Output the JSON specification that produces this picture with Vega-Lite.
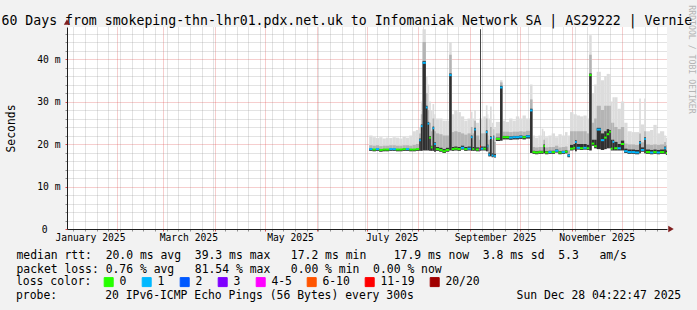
{
"$schema": "https://vega.github.io/schema/vega-lite/v6.json",
"width": 600, "height": 202,
"autosize": {"type": "none"},
"padding": {"left": 67, "top": 27, "right": 30, "bottom": 81},
"background": "#f2f2f2",
"title": {"text": "probe:\u00a0\u00a0\u00a0\u00a0\u00a0\u00a0\u00a020 IPv6-ICMP Echo Pings (56 Bytes) every 300s\u00a0\u00a0\u00a0\u00a0\u00a0\u00a0\u00a0\u00a0\u00a0\u00a0\u00a0\u00a0\u00a0\u00a0\u00a0Sun Dec 28 04:22:47 2025",
"orient": "bottom", "anchor": "start", "frame": "group", "align": "left", "dx": -51, "offset": 10, "baseline": "alphabetic",
"font": "DejaVu Sans Mono", "fontSize": 11.4, "fontWeight": "normal", "color": "black"},
"datasets": {
"smoke": [
{"t":"2025-07-02T12:00Z","t2":"2025-07-04T12:00Z","lo":18.4,"dk":18.9,"mh":19.7,"hi":22.0,"med":18.8,"loss":"1"},
{"t":"2025-07-04T12:00Z","t2":"2025-07-06T12:00Z","lo":18.3,"dk":18.8,"mh":19.6,"hi":21.6,"med":18.7,"loss":"0"},
{"t":"2025-07-06T12:00Z","t2":"2025-07-08T12:00Z","lo":18.4,"dk":18.9,"mh":19.7,"hi":21.4,"med":18.8,"loss":"1"},
{"t":"2025-07-08T12:00Z","t2":"2025-07-10T12:00Z","lo":18.2,"dk":18.7,"mh":19.5,"hi":21.6,"med":18.6,"loss":"0"},
{"t":"2025-07-10T12:00Z","t2":"2025-07-12T12:00Z","lo":18.3,"dk":18.8,"mh":19.6,"hi":21.3,"med":18.7,"loss":"0"},
{"t":"2025-07-12T12:00Z","t2":"2025-07-14T12:00Z","lo":18.3,"dk":18.8,"mh":19.6,"hi":21.5,"med":18.7,"loss":"0"},
{"t":"2025-07-14T12:00Z","t2":"2025-07-16T12:00Z","lo":18.4,"dk":18.9,"mh":19.7,"hi":21.4,"med":18.8,"loss":"1"},
{"t":"2025-07-16T12:00Z","t2":"2025-07-18T12:00Z","lo":18.4,"dk":18.9,"mh":19.7,"hi":21.6,"med":18.8,"loss":"1"},
{"t":"2025-07-18T12:00Z","t2":"2025-07-20T12:00Z","lo":18.3,"dk":18.8,"mh":19.6,"hi":21.5,"med":18.7,"loss":"0"},
{"t":"2025-07-20T12:00Z","t2":"2025-07-22T12:00Z","lo":18.3,"dk":18.8,"mh":19.6,"hi":21.3,"med":18.7,"loss":"0"},
{"t":"2025-07-22T12:00Z","t2":"2025-07-24T12:00Z","lo":18.4,"dk":18.9,"mh":19.7,"hi":21.7,"med":18.8,"loss":"0"},
{"t":"2025-07-24T12:00Z","t2":"2025-07-26T12:00Z","lo":18.4,"dk":18.9,"mh":19.7,"hi":21.5,"med":18.8,"loss":"1"},
{"t":"2025-07-26T12:00Z","t2":"2025-07-28T12:00Z","lo":18.3,"dk":18.8,"mh":19.6,"hi":22.0,"med":18.7,"loss":"0"},
{"t":"2025-07-28T12:00Z","t2":"2025-07-30T12:00Z","lo":18.3,"dk":18.8,"mh":19.8,"hi":23.0,"med":18.7,"loss":"0"},
{"t":"2025-07-30T12:00Z","t2":"2025-08-01T12:00Z","lo":18.4,"dk":18.9,"mh":20.0,"hi":23.3,"med":18.8,"loss":"0"},
{"t":"2025-08-01T12:00Z","t2":"2025-08-02T12:00Z","lo":18.4,"dk":21.3,"mh":22.5,"hi":24.0,"med":20.9,"loss":"1"},
{"t":"2025-08-02T12:00Z","t2":"2025-08-03T12:00Z","lo":18.4,"dk":24.6,"mh":27.0,"hi":30.0,"med":24.2,"loss":"1"},
{"t":"2025-08-03T12:00Z","t2":"2025-08-05T12:00Z","lo":18.5,"dk":39.5,"mh":44.0,"hi":47.0,"med":39.1,"loss":"1"},
{"t":"2025-08-05T12:00Z","t2":"2025-08-06T12:00Z","lo":18.5,"dk":29.0,"mh":32.0,"hi":36.0,"med":28.6,"loss":"1"},
{"t":"2025-08-06T12:00Z","t2":"2025-08-07T12:00Z","lo":18.5,"dk":25.2,"mh":28.0,"hi":34.0,"med":24.8,"loss":"1"},
{"t":"2025-08-07T12:00Z","t2":"2025-08-08T12:00Z","lo":18.4,"dk":21.9,"mh":25.0,"hi":30.0,"med":21.5,"loss":"0"},
{"t":"2025-08-08T12:00Z","t2":"2025-08-09T12:00Z","lo":18.4,"dk":19.6,"mh":23.0,"hi":28.0,"med":19.2,"loss":"0"},
{"t":"2025-08-09T12:00Z","t2":"2025-08-10T12:00Z","lo":18.4,"dk":24.1,"mh":26.0,"hi":29.4,"med":23.7,"loss":"1"},
{"t":"2025-08-10T12:00Z","t2":"2025-08-11T12:00Z","lo":18.2,"dk":20.4,"mh":23.0,"hi":27.0,"med":20.0,"loss":"1"},
{"t":"2025-08-11T12:00Z","t2":"2025-08-13T12:00Z","lo":18.4,"dk":19.3,"mh":22.5,"hi":26.0,"med":18.8,"loss":"0"},
{"t":"2025-08-13T12:00Z","t2":"2025-08-15T12:00Z","lo":18.2,"dk":19.1,"mh":22.3,"hi":26.0,"med":18.6,"loss":"0"},
{"t":"2025-08-15T12:00Z","t2":"2025-08-17T12:00Z","lo":17.9,"dk":18.8,"mh":22.0,"hi":25.5,"med":18.3,"loss":"0"},
{"t":"2025-08-17T12:00Z","t2":"2025-08-19T12:00Z","lo":18.2,"dk":19.1,"mh":22.0,"hi":25.5,"med":18.6,"loss":"0"},
{"t":"2025-08-19T12:00Z","t2":"2025-08-21T00:00Z","lo":18.5,"dk":36.6,"mh":41.0,"hi":44.0,"med":36.2,"loss":"1"},
{"t":"2025-08-21T00:00Z","t2":"2025-08-22T12:00Z","lo":18.4,"dk":19.3,"mh":22.8,"hi":27.0,"med":18.8,"loss":"0"},
{"t":"2025-08-22T12:00Z","t2":"2025-08-24T12:00Z","lo":18.5,"dk":19.4,"mh":23.0,"hi":28.0,"med":18.9,"loss":"0"},
{"t":"2025-08-24T12:00Z","t2":"2025-08-26T12:00Z","lo":18.4,"dk":19.3,"mh":22.8,"hi":27.5,"med":18.8,"loss":"0"},
{"t":"2025-08-26T12:00Z","t2":"2025-08-28T12:00Z","lo":18.7,"dk":19.6,"mh":22.5,"hi":26.5,"med":19.1,"loss":"1"},
{"t":"2025-08-28T12:00Z","t2":"2025-08-30T12:00Z","lo":18.4,"dk":19.3,"mh":22.2,"hi":25.5,"med":18.8,"loss":"0"},
{"t":"2025-08-30T12:00Z","t2":"2025-09-01T12:00Z","lo":18.5,"dk":19.4,"mh":22.5,"hi":26.0,"med":18.9,"loss":"1"},
{"t":"2025-09-01T12:00Z","t2":"2025-09-02T12:00Z","lo":18.4,"dk":22.0,"mh":24.0,"hi":27.6,"med":21.6,"loss":"1"},
{"t":"2025-09-02T12:00Z","t2":"2025-09-03T12:00Z","lo":18.4,"dk":19.3,"mh":22.5,"hi":26.0,"med":18.8,"loss":"0"},
{"t":"2025-09-03T12:00Z","t2":"2025-09-04T12:00Z","lo":18.4,"dk":23.8,"mh":25.5,"hi":28.0,"med":23.4,"loss":"1"},
{"t":"2025-09-04T12:00Z","t2":"2025-09-06T12:00Z","lo":18.3,"dk":19.2,"mh":22.0,"hi":25.0,"med":18.7,"loss":"0"},
{"t":"2025-09-06T12:00Z","t2":"2025-09-07T00:00Z","lo":18.3,"dk":19.1,"mh":21.0,"hi":26.0,"med":18.7,"loss":"4-5"},
{"t":"2025-09-07T00:00Z","t2":"2025-09-07T12:00Z","lo":18.4,"dk":47.0,"mh":47.0,"hi":47.0,"med":19.4,"loss":"11-19"},
{"t":"2025-09-07T12:00Z","t2":"2025-09-09T00:00Z","lo":18.5,"dk":19.4,"mh":22.5,"hi":26.0,"med":18.9,"loss":"1"},
{"t":"2025-09-09T00:00Z","t2":"2025-09-10T12:00Z","lo":18.5,"dk":19.4,"mh":22.5,"hi":26.5,"med":18.9,"loss":"0"},
{"t":"2025-09-10T12:00Z","t2":"2025-09-11T12:00Z","lo":18.3,"dk":23.2,"mh":26.0,"hi":29.1,"med":22.8,"loss":"1"},
{"t":"2025-09-11T12:00Z","t2":"2025-09-12T00:00Z","lo":18.3,"dk":19.9,"mh":22.0,"hi":27.0,"med":19.5,"loss":"1"},
{"t":"2025-09-12T00:00Z","t2":"2025-09-13T00:00Z","lo":17.1,"dk":18.0,"mh":21.0,"hi":26.0,"med":17.5,"loss":"1"},
{"t":"2025-09-13T00:00Z","t2":"2025-09-14T00:00Z","lo":17.1,"dk":21.8,"mh":24.0,"hi":28.8,"med":21.4,"loss":"1"},
{"t":"2025-09-14T00:00Z","t2":"2025-09-15T00:00Z","lo":16.9,"dk":17.8,"mh":21.0,"hi":25.0,"med":17.3,"loss":"1"},
{"t":"2025-09-15T00:00Z","t2":"2025-09-15T12:00Z","lo":17.0,"dk":22.0,"mh":23.5,"hi":27.0,"med":21.6,"loss":"1"},
{"t":"2025-09-15T12:00Z","t2":"2025-09-16T12:00Z","lo":16.8,"dk":17.7,"mh":20.5,"hi":24.0,"med":17.2,"loss":"1"},
{"t":"2025-09-16T12:00Z","t2":"2025-09-19T00:00Z","lo":20.7,"dk":21.5,"mh":22.5,"hi":25.2,"med":21.2,"loss":"0"},
{"t":"2025-09-19T00:00Z","t2":"2025-09-20T12:00Z","lo":20.8,"dk":33.7,"mh":34.5,"hi":35.0,"med":33.3,"loss":"1"},
{"t":"2025-09-20T12:00Z","t2":"2025-09-22T12:00Z","lo":21.1,"dk":21.9,"mh":22.9,"hi":25.5,"med":21.6,"loss":"0"},
{"t":"2025-09-22T12:00Z","t2":"2025-09-24T12:00Z","lo":21.1,"dk":21.9,"mh":22.9,"hi":25.2,"med":21.6,"loss":"0"},
{"t":"2025-09-24T12:00Z","t2":"2025-09-26T12:00Z","lo":21.0,"dk":21.8,"mh":22.8,"hi":26.0,"med":21.5,"loss":"1"},
{"t":"2025-09-26T12:00Z","t2":"2025-09-28T12:00Z","lo":21.1,"dk":21.9,"mh":22.9,"hi":25.5,"med":21.6,"loss":"1"},
{"t":"2025-09-28T12:00Z","t2":"2025-09-30T12:00Z","lo":21.1,"dk":21.9,"mh":22.9,"hi":26.5,"med":21.6,"loss":"1"},
{"t":"2025-09-30T12:00Z","t2":"2025-10-02T12:00Z","lo":21.2,"dk":22.0,"mh":23.0,"hi":26.0,"med":21.7,"loss":"1"},
{"t":"2025-10-02T12:00Z","t2":"2025-10-04T12:00Z","lo":21.1,"dk":21.9,"mh":22.9,"hi":26.7,"med":21.6,"loss":"0"},
{"t":"2025-10-04T12:00Z","t2":"2025-10-07T00:00Z","lo":21.3,"dk":22.1,"mh":23.1,"hi":26.0,"med":21.8,"loss":"1"},
{"t":"2025-10-07T00:00Z","t2":"2025-10-08T12:00Z","lo":17.9,"dk":28.3,"mh":30.5,"hi":34.0,"med":27.9,"loss":"1"},
{"t":"2025-10-08T12:00Z","t2":"2025-10-10T00:00Z","lo":17.7,"dk":18.4,"mh":19.3,"hi":22.0,"med":18.1,"loss":"0"},
{"t":"2025-10-10T00:00Z","t2":"2025-10-12T00:00Z","lo":17.6,"dk":18.3,"mh":19.2,"hi":21.5,"med":18.0,"loss":"0"},
{"t":"2025-10-12T00:00Z","t2":"2025-10-14T00:00Z","lo":17.7,"dk":18.4,"mh":19.3,"hi":22.0,"med":18.1,"loss":"0"},
{"t":"2025-10-14T00:00Z","t2":"2025-10-15T00:00Z","lo":17.7,"dk":18.4,"mh":19.3,"hi":23.6,"med":18.1,"loss":"0"},
{"t":"2025-10-15T00:00Z","t2":"2025-10-16T00:00Z","lo":17.8,"dk":19.9,"mh":21.0,"hi":23.0,"med":19.5,"loss":"0"},
{"t":"2025-10-16T00:00Z","t2":"2025-10-18T00:00Z","lo":17.6,"dk":18.3,"mh":19.2,"hi":21.6,"med":18.0,"loss":"0"},
{"t":"2025-10-18T00:00Z","t2":"2025-10-20T00:00Z","lo":17.7,"dk":18.4,"mh":19.3,"hi":22.0,"med":18.1,"loss":"1"},
{"t":"2025-10-20T00:00Z","t2":"2025-10-22T00:00Z","lo":17.7,"dk":18.4,"mh":19.3,"hi":22.5,"med":18.1,"loss":"0"},
{"t":"2025-10-22T00:00Z","t2":"2025-10-24T00:00Z","lo":18.0,"dk":18.7,"mh":19.6,"hi":21.6,"med":18.4,"loss":"1"},
{"t":"2025-10-24T00:00Z","t2":"2025-10-26T00:00Z","lo":17.6,"dk":18.3,"mh":19.2,"hi":22.3,"med":18.0,"loss":"0"},
{"t":"2025-10-26T00:00Z","t2":"2025-10-28T00:00Z","lo":17.7,"dk":18.4,"mh":19.3,"hi":22.0,"med":18.1,"loss":"1"},
{"t":"2025-10-28T00:00Z","t2":"2025-10-29T12:00Z","lo":17.8,"dk":18.5,"mh":19.4,"hi":22.8,"med":18.2,"loss":"0"},
{"t":"2025-10-29T12:00Z","t2":"2025-10-31T00:00Z","lo":16.9,"dk":17.6,"mh":18.5,"hi":22.0,"med":17.3,"loss":"1"},
{"t":"2025-10-31T00:00Z","t2":"2025-11-02T00:00Z","lo":18.5,"dk":19.8,"mh":23.0,"hi":27.5,"med":18.9,"loss":"0"},
{"t":"2025-11-02T00:00Z","t2":"2025-11-03T00:00Z","lo":18.7,"dk":20.0,"mh":23.0,"hi":27.0,"med":19.1,"loss":"0"},
{"t":"2025-11-03T00:00Z","t2":"2025-11-04T00:00Z","lo":18.3,"dk":20.9,"mh":23.0,"hi":27.0,"med":20.5,"loss":"1"},
{"t":"2025-11-04T00:00Z","t2":"2025-11-06T00:00Z","lo":18.7,"dk":20.0,"mh":23.0,"hi":26.7,"med":19.1,"loss":"1"},
{"t":"2025-11-06T00:00Z","t2":"2025-11-08T00:00Z","lo":18.6,"dk":20.0,"mh":23.0,"hi":26.5,"med":19.0,"loss":"0"},
{"t":"2025-11-08T00:00Z","t2":"2025-11-10T00:00Z","lo":18.7,"dk":20.0,"mh":23.0,"hi":26.7,"med":19.1,"loss":"1"},
{"t":"2025-11-10T00:00Z","t2":"2025-11-11T12:00Z","lo":18.6,"dk":19.8,"mh":22.5,"hi":26.0,"med":19.0,"loss":"0"},
{"t":"2025-11-11T12:00Z","t2":"2025-11-13T00:00Z","lo":18.5,"dk":36.6,"mh":41.0,"hi":45.6,"med":36.2,"loss":"0"},
{"t":"2025-11-13T00:00Z","t2":"2025-11-14T12:00Z","lo":19.6,"dk":21.0,"mh":25.0,"hi":32.0,"med":20.1,"loss":"0"},
{"t":"2025-11-14T12:00Z","t2":"2025-11-16T00:00Z","lo":19.0,"dk":21.0,"mh":26.0,"hi":34.0,"med":19.5,"loss":"0"},
{"t":"2025-11-16T00:00Z","t2":"2025-11-18T12:00Z","lo":18.8,"dk":23.8,"mh":29.0,"hi":37.0,"med":23.4,"loss":"1"},
{"t":"2025-11-18T12:00Z","t2":"2025-11-20T12:00Z","lo":18.6,"dk":22.5,"mh":28.0,"hi":35.0,"med":20.9,"loss":"1"},
{"t":"2025-11-20T12:00Z","t2":"2025-11-22T00:00Z","lo":18.8,"dk":23.0,"mh":29.0,"hi":36.0,"med":21.5,"loss":"0"},
{"t":"2025-11-22T00:00Z","t2":"2025-11-23T12:00Z","lo":19.0,"dk":23.5,"mh":29.0,"hi":36.5,"med":22.3,"loss":"0"},
{"t":"2025-11-23T12:00Z","t2":"2025-11-24T12:00Z","lo":19.0,"dk":23.3,"mh":29.0,"hi":36.5,"med":22.9,"loss":"0"},
{"t":"2025-11-24T12:00Z","t2":"2025-11-25T12:00Z","lo":18.5,"dk":21.0,"mh":25.0,"hi":30.0,"med":18.9,"loss":"0"},
{"t":"2025-11-25T12:00Z","t2":"2025-11-26T12:00Z","lo":18.5,"dk":21.0,"mh":25.0,"hi":31.0,"med":20.5,"loss":"1"},
{"t":"2025-11-26T12:00Z","t2":"2025-11-28T12:00Z","lo":18.5,"dk":20.5,"mh":24.0,"hi":31.0,"med":19.0,"loss":"0"},
{"t":"2025-11-28T12:00Z","t2":"2025-11-30T12:00Z","lo":18.5,"dk":20.0,"mh":23.5,"hi":28.3,"med":19.0,"loss":"1"},
{"t":"2025-11-30T12:00Z","t2":"2025-12-02T12:00Z","lo":18.5,"dk":20.8,"mh":24.0,"hi":30.0,"med":20.0,"loss":"0"},
{"t":"2025-12-02T12:00Z","t2":"2025-12-04T12:00Z","lo":17.9,"dk":18.9,"mh":20.1,"hi":25.0,"med":18.3,"loss":"1"},
{"t":"2025-12-04T12:00Z","t2":"2025-12-07T00:00Z","lo":17.7,"dk":18.7,"mh":19.9,"hi":23.0,"med":18.1,"loss":"1"},
{"t":"2025-12-07T00:00Z","t2":"2025-12-09T00:00Z","lo":17.7,"dk":18.7,"mh":19.9,"hi":22.8,"med":18.1,"loss":"1"},
{"t":"2025-12-09T00:00Z","t2":"2025-12-11T12:00Z","lo":17.6,"dk":18.6,"mh":19.8,"hi":22.8,"med":18.0,"loss":"1"},
{"t":"2025-12-11T12:00Z","t2":"2025-12-12T12:00Z","lo":17.8,"dk":20.7,"mh":22.5,"hi":30.7,"med":20.3,"loss":"1"},
{"t":"2025-12-12T12:00Z","t2":"2025-12-14T12:00Z","lo":18.2,"dk":19.2,"mh":20.4,"hi":24.6,"med":18.6,"loss":"1"},
{"t":"2025-12-14T12:00Z","t2":"2025-12-15T12:00Z","lo":17.8,"dk":21.6,"mh":23.0,"hi":30.7,"med":21.2,"loss":"1"},
{"t":"2025-12-15T12:00Z","t2":"2025-12-18T00:00Z","lo":17.7,"dk":18.7,"mh":19.9,"hi":23.0,"med":18.1,"loss":"0"},
{"t":"2025-12-18T00:00Z","t2":"2025-12-20T00:00Z","lo":17.6,"dk":18.6,"mh":19.8,"hi":23.3,"med":18.0,"loss":"1"},
{"t":"2025-12-20T00:00Z","t2":"2025-12-22T00:00Z","lo":17.7,"dk":18.7,"mh":19.9,"hi":24.5,"med":18.1,"loss":"0"},
{"t":"2025-12-22T00:00Z","t2":"2025-12-24T00:00Z","lo":17.6,"dk":18.6,"mh":19.8,"hi":22.5,"med":18.0,"loss":"1"},
{"t":"2025-12-24T00:00Z","t2":"2025-12-26T12:00Z","lo":17.7,"dk":18.7,"mh":19.9,"hi":23.0,"med":18.1,"loss":"0"},
{"t":"2025-12-26T12:00Z","t2":"2025-12-27T12:00Z","lo":17.7,"dk":19.4,"mh":20.5,"hi":22.0,"med":19.0,"loss":"1"},
{"t":"2025-12-27T12:00Z","t2":"2025-12-28T04:00Z","lo":17.5,"dk":18.5,"mh":19.7,"hi":21.5,"med":17.9,"loss":"0"}
],
"arrows": [
{"t":"2025-12-30T14:00Z","v":0,"s":"triangle-right"},
{"t":"2025-01-02T04:22:47Z","v":48.7,"s":"triangle-up"}
]
},
"layer": [
{
"data": {"name": "smoke"},
"mark": {"type": "rect", "color": "#dcdcdc"},
"encoding": {
"x": {"field": "t", "type": "temporal",
"scale": {"type": "utc", "domain": [{"year":2025,"month":1,"date":2,"hours":4,"minutes":22,"seconds":47,"utc":true},{"year":2025,"month":12,"date":28,"hours":4,"minutes":22,"seconds":47,"utc":true}]},
"axis": {
"orient": "bottom",
"values": {"expr": "[utc(2025,0,6),utc(2025,0,13),utc(2025,0,20),utc(2025,0,27),utc(2025,1,3),utc(2025,1,10),utc(2025,1,17),utc(2025,1,24),utc(2025,2,3),utc(2025,2,10),utc(2025,2,17),utc(2025,2,24),utc(2025,2,31),utc(2025,3,7),utc(2025,3,14),utc(2025,3,21),utc(2025,3,28),utc(2025,4,5),utc(2025,4,12),utc(2025,4,19),utc(2025,4,26),utc(2025,5,2),utc(2025,5,9),utc(2025,5,16),utc(2025,5,23),utc(2025,5,30),utc(2025,6,7),utc(2025,6,14),utc(2025,6,21),utc(2025,6,28),utc(2025,7,4),utc(2025,7,11),utc(2025,7,18),utc(2025,7,25),utc(2025,8,8),utc(2025,8,15),utc(2025,8,22),utc(2025,8,29),utc(2025,9,6),utc(2025,9,13),utc(2025,9,20),utc(2025,9,27),utc(2025,10,3),utc(2025,10,10),utc(2025,10,17),utc(2025,10,24),utc(2025,11,8),utc(2025,11,15),utc(2025,11,22),utc(2025,1,1),utc(2025,2,1),utc(2025,3,1),utc(2025,4,1),utc(2025,5,1),utc(2025,6,1),utc(2025,7,1),utc(2025,8,1),utc(2025,9,1),utc(2025,10,1),utc(2025,11,1),utc(2025,0,16),utc(2025,2,16),utc(2025,4,16),utc(2025,6,16),utc(2025,8,16),utc(2025,10,16)]"},
"labelExpr": "utcdate(datum.value)==16 && utcmonth(datum.value)%2==0 ? utcFormat(datum.value, '%B %Y') : ''",
"labelOverlap": false, "labelFlush": false, "labelBound": false,
"labelFontSize": 9.7, "labelPadding": 1, "labelColor": "black",
"tickSize": 2,
"tickColor": {"condition": {"test": "utcdate(datum.value)==1", "value": "#de4f4f"}, "value": "#8f8f8f"},
"tickOpacity": {"condition": {"test": "utcdate(datum.value)==16 && utcmonth(datum.value)%2==0", "value": 0}, "value": 1},
"grid": true,
"gridColor": {"condition": {"test": "utcdate(datum.value)==1", "value": "rgba(222,79,79,0.55)"}, "value": "rgba(143,143,143,0.5)"},
"gridOpacity": {"condition": {"test": "utcdate(datum.value)==16 && utcmonth(datum.value)%2==0", "value": 0}, "value": 1},
"gridDash": [1, 1], "gridWidth": 1,
"domainColor": "#1f1f1f", "domainWidth": 1,
"title": ["median rtt:\u00a0\u00a020.0 ms avg\u00a0\u00a039.3 ms max\u00a0\u00a0\u00a017.2 ms min\u00a0\u00a0\u00a0\u00a017.9 ms now\u00a0\u00a03.8 ms sd\u00a0\u00a05.3\u00a0\u00a0\u00a0am/s", "packet loss: 0.76 % avg\u00a0\u00a0\u00a081.54 % max\u00a0\u00a0\u00a00.00 % min\u00a0\u00a00.00 % now"],
"titleX": -51, "titleY": 29, "titleAlign": "left", "titleAnchor": "start", "titleBaseline": "alphabetic",
"titleFontSize": 11.4, "titleLineHeight": 14, "titleFontWeight": "normal", "titleColor": "black"
}},
"x2": {"field": "t2"},
"y": {"field": "lo", "type": "quantitative",
"scale": {"domain": [0, 47.53], "nice": false, "zero": false},
"axis": {
"orient": "left",
"values": [0,2,4,6,8,10,12,14,16,18,20,22,24,26,28,30,32,34,36,38,40,42,44,46],
"labelExpr": "datum.value % 10 == 0 ? (datum.value == 0 ? '0' : datum.value + ' m') : ''",
"labelFontSize": 9.7, "labelColor": "black",
"labelPadding": {"condition": {"test": "datum.value == 0", "value": 18}, "value": 5},
"tickSize": 2,
"tickColor": {"condition": {"test": "datum.value % 10 == 0", "value": "#de4f4f"}, "value": "#8f8f8f"},
"grid": true,
"gridColor": {"condition": {"test": "datum.value % 10 == 0", "value": "rgba(222,79,79,0.55)"}, "value": "rgba(143,143,143,0.5)"},
"gridDash": [1, 1], "gridWidth": 1,
"domainColor": "#1f1f1f",
"title": "Seconds", "titleX": -56, "titleY": 101, "titleAngle": 270, "titleAlign": "center", "titleBaseline": "middle",
"titleFontSize": 11.4, "titleFontWeight": "normal", "titleColor": "black"
}},
"y2": {"field": "hi"}
}
},
{
"data": {"name": "smoke"},
"mark": {"type": "rect", "color": "#b4b4b4"},
"encoding": {
"x": {"field": "t", "type": "temporal", "scale": {"type": "utc", "domain": [{"year":2025,"month":1,"date":2,"hours":4,"minutes":22,"seconds":47,"utc":true},{"year":2025,"month":12,"date":28,"hours":4,"minutes":22,"seconds":47,"utc":true}]}, "axis": null},
"x2": {"field": "t2"},
"y": {"field": "lo", "type": "quantitative", "scale": {"domain": [0, 47.53], "nice": false, "zero": false}, "axis": null},
"y2": {"field": "mh"}
}
},
{
"data": {"name": "smoke"},
"mark": {"type": "rect", "color": "#303030"},
"encoding": {
"x": {"field": "t", "type": "temporal", "scale": {"type": "utc", "domain": [{"year":2025,"month":1,"date":2,"hours":4,"minutes":22,"seconds":47,"utc":true},{"year":2025,"month":12,"date":28,"hours":4,"minutes":22,"seconds":47,"utc":true}]}, "axis": null},
"x2": {"field": "t2"},
"y": {"field": "lo", "type": "quantitative", "scale": {"domain": [0, 47.53], "nice": false, "zero": false}, "axis": null},
"y2": {"field": "dk"}
}
},
{
"data": {"name": "smoke"},
"mark": {"type": "rule", "strokeWidth": 2},
"encoding": {
"x": {"field": "t", "type": "temporal", "scale": {"type": "utc", "domain": [{"year":2025,"month":1,"date":2,"hours":4,"minutes":22,"seconds":47,"utc":true},{"year":2025,"month":12,"date":28,"hours":4,"minutes":22,"seconds":47,"utc":true}]},
"axis": {"orient": "top", "labels": false, "ticks": false, "domain": false, "grid": false,
"title": "60 Days from smokeping-thn-lhr01.pdx.net.uk to Infomaniak Network SA | AS29222 | Vernie",
"titleX": -66, "titleY": -3, "titleAlign": "left", "titleAnchor": "start", "titleBaseline": "alphabetic",
"titleFontSize": 13.2, "titleFontWeight": "normal", "titleColor": "black"}},
"x2": {"field": "t2"},
"y": {"field": "med", "type": "quantitative", "scale": {"domain": [0, 47.53], "nice": false, "zero": false},
"axis": {"orient": "right", "labels": false, "ticks": false, "domain": false, "grid": false,
"title": "RRDTOOL / TOBI OETIKER", "titleAngle": 90, "titleX": 23, "titleY": 32, "titleAlign": "center", "titleBaseline": "middle",
"titleFontSize": 8.2, "titleFontWeight": "normal", "titleColor": "#b4b4b4"}},
"color": {"field": "loss", "type": "nominal",
"scale": {"domain": ["0","1","2","3","4-5","6-10","11-19","20/20"], "range": ["#26ff00","#00b8ff","#0059ff","#7e00ff","#ff00ff","#ff5500","#ff0000","#a10000"]},
"legend": {"orient": "none", "legendX": -51, "legendY": 249, "direction": "horizontal",
"title": "loss color:", "titleOrient": "left", "titlePadding": 11, "titleBaseline": "middle",
"titleFont": "DejaVu Sans Mono", "titleFontSize": 11.4, "titleFontWeight": "normal", "titleColor": "black", "titleLimit": 0,
"symbolType": "square", "symbolSize": 81, "labelFontSize": 11.4, "labelOffset": 5, "columnPadding": 13, "labelColor": "black", "labelLimit": 0, "padding": 0,
"encode": {"symbols": {"update": {"fill": {"scale": "color", "field": "value"}, "stroke": {"value": "black"}, "strokeWidth": {"value": 1}, "opacity": {"value": 1}}}}}}
}
},
{
"data": {"name": "arrows"},
"mark": {"type": "point", "filled": true, "opacity": 1, "color": "#801f1f", "size": 40},
"encoding": {
"x": {"field": "t", "type": "temporal", "scale": {"type": "utc", "domain": [{"year":2025,"month":1,"date":2,"hours":4,"minutes":22,"seconds":47,"utc":true},{"year":2025,"month":12,"date":28,"hours":4,"minutes":22,"seconds":47,"utc":true}]}, "axis": null},
"y": {"field": "v", "type": "quantitative", "scale": {"domain": [0, 47.53], "nice": false, "zero": false}, "axis": null},
"shape": {"field": "s", "type": "nominal", "scale": null}
}
}
],
"resolve": {"axis": {"x": "independent", "y": "independent"}},
"config": {
"view": {"fill": "white", "stroke": null},
"font": "DejaVu Sans Mono",
"axis": {"labelFont": "DejaVu Sans Mono", "titleFont": "DejaVu Sans Mono"},
"legend": {"labelFont": "DejaVu Sans Mono", "titleFont": "DejaVu Sans Mono"}
}
}
